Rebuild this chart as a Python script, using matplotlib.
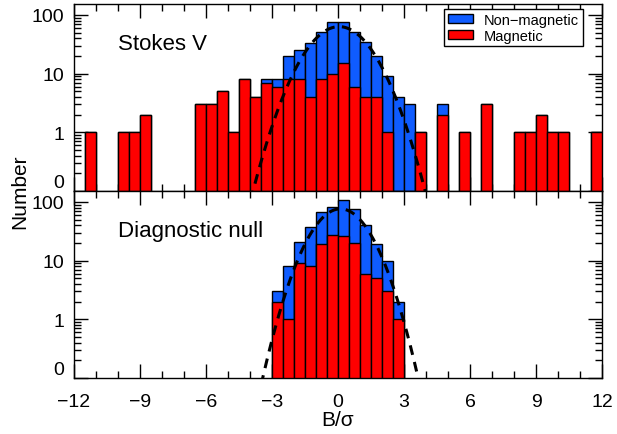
'''
Stokes V and diagnostic null histograms of B/sigma,
magnetic and non-magnetic stars, with gaussian fits
'''

import numpy as np
import matplotlib
matplotlib.use('Agg')
import matplotlib.pyplot as plt
from matplotlib.ticker import FixedLocator, MultipleLocator, NullFormatter

plt.rcParams['font.family'] = ['Liberation Sans', 'DejaVu Sans']

###########################################
# data (bins of 0.5 in B/sigma, from -12 to 12)

binLo = -12.0
binW = 0.5

# Stokes V: total (non-magnetic + magnetic) and magnetic counts per bin
stokesTot = [0, 1, 0, 0, 1, 1, 2, 0, 0, 0, 0, 3, 3, 5, 1, 8, 4, 8, 8, 20, 25, 33, 52, 75,
             75, 52, 35, 20, 9, 4, 3, 1, 0, 3, 0, 1, 0, 3, 0, 0, 1, 1, 2, 1, 1, 0, 0, 1]
stokesMag = [0, 1, 0, 0, 1, 1, 2, 0, 0, 0, 0, 3, 3, 5, 1, 8, 4, 7, 6, 8, 8, 4, 8, 10,
             15, 6, 4, 4, 1, 0, 0, 1, 0, 2, 0, 1, 0, 3, 0, 0, 1, 1, 2, 1, 1, 0, 0, 1]

# diagnostic null, same bins
nullTot = [0]*18 + [3, 8, 21, 37, 67, 83, 107, 77, 41, 19, 10, 2] + [0]*18
nullMag = [0]*18 + [2, 1, 9, 8, 19, 27, 26, 20, 6, 5, 3, 1] + [0]*18

# gaussian fits: amplitude, centre, width
stokesFit = (63.0, 0.05, 1.09)
nullFit = (76.0, 0.11, 0.97)

blue = '#0f5cff'
red = '#ff0000'
floor = 0.1   # where "0" sits on the log axis


###########################################

def drawPanel(ax, tot, mag, fit, label, showLegend=False):
  '''Draw one stacked histogram panel'''
  tot = np.array(tot, dtype=float)
  mag = np.array(mag, dtype=float)
  left = binLo + binW*np.arange(tot.shape[0])

  use = tot > 0
  ax.bar(left[use], tot[use]-floor, width=binW, bottom=floor, align='edge',
         color=blue, edgecolor='black', linewidth=1.0, label='Non\u2212magnetic', zorder=2)
  use = mag > 0
  ax.bar(left[use], mag[use]-floor, width=binW, bottom=floor, align='edge',
         color=red, edgecolor='black', linewidth=1.0, label='Magnetic', zorder=3)

  # gaussian fit
  A, mu, sig = fit
  x = np.linspace(-12, 12, 961)
  y = A*np.exp(-(x-mu)**2/(2*sig**2))
  ax.plot(x, y, color='black', linestyle=(0, (3.2, 2.4)), linewidth=2.2, zorder=4)

  ax.set_xlim(-12, 12)
  ax.set_yscale('log')
  ax.set_ylim(floor, 153)
  ax.yaxis.set_major_locator(FixedLocator([0.1, 1, 10, 100]))
  minors = [m*d for d in (0.1, 1, 10) for m in range(2, 10)] + [200]
  ax.yaxis.set_minor_locator(FixedLocator(minors))
  ax.yaxis.set_minor_formatter(NullFormatter())
  ax.set_yticklabels(['0', '1', '10', '100'])
  ax.xaxis.set_major_locator(MultipleLocator(3))
  ax.xaxis.set_minor_locator(MultipleLocator(1))

  ax.tick_params(which='both', direction='in', top=True, right=True, labelsize=14)
  ax.tick_params(which='major', length=10, width=1.0)
  ax.tick_params(which='minor', length=5, width=1.0)
  ax.tick_params(axis='y', pad=7)
  ax.tick_params(axis='x', pad=11)
  for s in ax.spines.values():
    s.set_linewidth(1.0)

  # the "0" label sits above its tick
  ax.get_yticklabels()[0].set_verticalalignment('bottom')

  ax.text(0.083, 0.79, label, transform=ax.transAxes, fontsize=16,
          ha='left', va='center')

  if showLegend:
    fig = ax.figure
    ax.legend(loc='upper right', bbox_to_anchor=(583/617, 1-10/435),
              bbox_transform=fig.transFigure, borderaxespad=0, fontsize=10.5,
              frameon=True, fancybox=False, edgecolor='black', framealpha=1,
              handlelength=1.7, handleheight=0.55, handletextpad=0.8,
              labelspacing=0.15, borderpad=0.25)
  return


###########################################
# the main block

fig = plt.figure(figsize=(6.17, 4.35), dpi=100)
axTop = fig.add_axes([74/617, 1-192/435, 528/617, 187/435])
axBot = fig.add_axes([74/617, 1-379/435, 528/617, 187/435])

drawPanel(axTop, stokesTot, stokesMag, stokesFit, 'Stokes V', showLegend=True)
drawPanel(axBot, nullTot, nullMag, nullFit, 'Diagnostic null')
axTop.tick_params(axis='x', labelbottom=False)

fig.text(20/617, 1-192/435, 'Number', rotation=90, ha='center', va='center', fontsize=15)
fig.text(338/617, 1-421/435, 'B/\u03c3', ha='center', va='center', fontsize=15)

fig.savefig('out.png', dpi=100)
